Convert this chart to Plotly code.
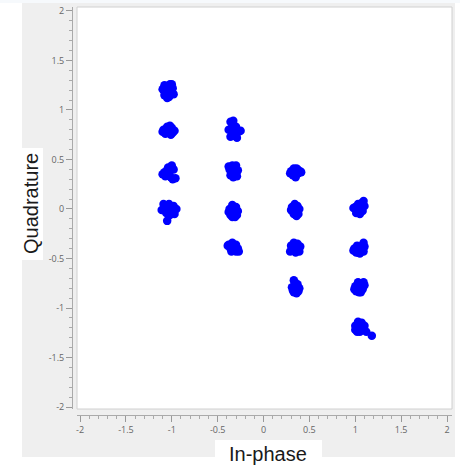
import plotly.graph_objects as go

# Constellation points, one list per cluster (In-phase, Quadrature)
cluster_i = [
    [-1.08, -1.02, -0.99, -1.06, -1.01, -1.08, -1.03, -0.98, -1.05, -1.10, -1.00, -1.04],
    [-1.09, -1.05, -1.00, -0.97, -1.03, -1.07, -1.01, -1.06, -0.99, -1.04, -1.10, -1.02],
    [-1.08, -1.04, -1.00, -0.98, -1.03, -1.07, -1.01, -0.96, -0.99, -1.05, -1.10, -1.02],
    [-1.08, -1.03, -0.98, -0.95, -1.00, -1.06, -1.11, -1.02, -0.97, -1.05, -1.04, -1.09],
    [-0.36, -0.34, -0.31, -0.27, -0.34, -0.38, -0.32, -0.29, -0.36, -0.30, -0.33, -0.25],
    [-0.37, -0.34, -0.30, -0.28, -0.32, -0.36, -0.33, -0.29, -0.35, -0.31, -0.38, -0.33],
    [-0.37, -0.34, -0.30, -0.28, -0.33, -0.36, -0.31, -0.35, -0.29, -0.32, -0.38, -0.34],
    [-0.38, -0.34, -0.30, -0.28, -0.32, -0.36, -0.30, -0.33, -0.27, -0.35, -0.39, -0.31],
    [0.30, 0.33, 0.37, 0.40, 0.35, 0.32, 0.35, 0.38, 0.29, 0.34, 0.41, 0.36],
    [0.31, 0.34, 0.37, 0.39, 0.36, 0.33, 0.36, 0.31, 0.38, 0.34, 0.30, 0.35],
    [0.30, 0.33, 0.37, 0.40, 0.36, 0.32, 0.35, 0.39, 0.31, 0.34, 0.29, 0.37],
    [0.33, 0.34, 0.37, 0.39, 0.36, 0.33, 0.36, 0.31, 0.38, 0.34, 0.32, 0.37],
    [1.00, 1.03, 1.07, 1.09, 1.10, 1.06, 1.02, 1.05, 1.08, 0.98, 1.04, 1.01],
    [0.99, 1.02, 1.06, 1.09, 1.10, 1.07, 1.03, 1.05, 1.09, 0.98, 1.04, 1.01],
    [1.00, 1.03, 1.07, 1.10, 1.08, 1.04, 1.01, 1.06, 0.99, 1.05, 1.09, 1.02],
    [1.00, 1.03, 1.07, 1.10, 1.08, 1.05, 1.02, 1.00, 1.06, 1.12, 1.18, 1.04],
]
cluster_q = [
    [1.25, 1.26, 1.22, 1.20, 1.18, 1.15, 1.13, 1.16, 1.12, 1.21, 1.26, 1.22],
    [0.80, 0.83, 0.82, 0.79, 0.77, 0.76, 0.75, 0.81, 0.77, 0.80, 0.78, 0.84],
    [0.37, 0.42, 0.44, 0.40, 0.36, 0.33, 0.32, 0.31, 0.30, 0.39, 0.35, 0.40],
    [0.02, 0.05, 0.03, 0.00, -0.03, -0.04, -0.01, -0.06, -0.05, -0.12, 0.00, 0.05],
    [0.88, 0.84, 0.80, 0.78, 0.77, 0.80, 0.74, 0.72, 0.73, 0.83, 0.89, 0.79],
    [0.40, 0.44, 0.44, 0.39, 0.36, 0.34, 0.32, 0.33, 0.38, 0.41, 0.43, 0.39],
    [0.00, 0.04, 0.02, -0.02, -0.04, -0.06, -0.08, -0.02, -0.06, 0.00, -0.03, -0.08],
    [-0.36, -0.34, -0.36, -0.40, -0.42, -0.40, -0.43, -0.38, -0.43, -0.43, -0.37, -0.39],
    [0.38, 0.41, 0.40, 0.38, 0.35, 0.34, 0.32, 0.36, 0.36, 0.38, 0.37, 0.41],
    [0.02, 0.05, 0.03, 0.00, -0.03, -0.05, -0.07, -0.02, -0.05, 0.00, -0.01, -0.06],
    [-0.37, -0.34, -0.35, -0.38, -0.41, -0.42, -0.44, -0.43, -0.40, -0.38, -0.43, -0.40],
    [-0.72, -0.74, -0.76, -0.80, -0.83, -0.84, -0.85, -0.79, -0.83, -0.79, -0.82, -0.79],
    [0.02, 0.05, 0.06, 0.08, 0.03, 0.00, -0.03, -0.05, -0.02, 0.01, 0.01, -0.04],
    [-0.40, -0.37, -0.38, -0.34, -0.38, -0.42, -0.44, -0.45, -0.43, -0.42, -0.41, -0.44],
    [-0.78, -0.74, -0.75, -0.77, -0.81, -0.84, -0.83, -0.84, -0.81, -0.79, -0.74, -0.79],
    [-1.18, -1.14, -1.15, -1.18, -1.22, -1.24, -1.24, -1.22, -1.20, -1.24, -1.28, -1.19],
]

tick_vals = [-2, -1.5, -1, -0.5, 0, 0.5, 1, 1.5, 2]
tick_text = ["-2", "-1.5", "-1", "-0.5", "0", "0.5", "1", "1.5", "2"]

W, H = 460, 468
def px(x):
    return x / W
def py(y):
    return 1 - y / H

i_all = [v for c in cluster_i for v in c]
q_all = [v for c in cluster_q for v in c]

fig = go.Figure()
fig.add_trace(go.Scatter(
    x=i_all, y=q_all, mode="markers",
    marker=dict(color="#0000ff", size=8.5, line=dict(width=0)),
    showlegend=False, hoverinfo="skip",
))

tickfont = dict(family="Open Sans, DejaVu Sans, sans-serif", size=9, color="#666666")
axis_common = dict(
    tickmode="array", tickvals=tick_vals, ticktext=tick_text,
    ticks="outside", ticklen=6, tickcolor="#999999", tickwidth=1,
    showline=True, linecolor="#aaaaaa", linewidth=1,
    showgrid=False, zeroline=False, tickfont=tickfont,
    minor=dict(dtick=0.1, tick0=0, ticks="outside", ticklen=3, tickcolor="#aaaaaa", showgrid=False),
    anchor="free", fixedrange=True, automargin=False,
)

fig.update_layout(
    width=W, height=H,
    margin=dict(l=0, r=0, t=0, b=0),
    paper_bgcolor="#efefef",
    plot_bgcolor="#ffffff",
    xaxis=dict(axis_common, domain=[px(77), px(452)], range=[-2.033, 2.054], position=py(415)),
    yaxis=dict(axis_common, domain=[py(409), py(7)], range=[-2.02, 2.04], position=px(72)),
    shapes=[
        dict(type="rect", xref="paper", yref="paper", x0=0, x1=px(22), y0=0, y1=1,
             fillcolor="#ffffff", line=dict(width=0), layer="below"),
        dict(type="rect", xref="paper", yref="paper", x0=0, x1=1, y0=0, y1=py(457),
             fillcolor="#ffffff", line=dict(width=0), layer="below"),
        dict(type="rect", xref="paper", yref="paper", x0=px(455), x1=1, y0=0, y1=1,
             fillcolor="#ffffff", line=dict(width=0), layer="below"),
        dict(type="rect", xref="paper", yref="paper", x0=0, x1=1, y0=py(3), y1=1,
             fillcolor="#f6f9fc", line=dict(width=0), layer="below"),
        dict(type="rect", xref="paper", yref="paper", x0=px(22), x1=px(43), y0=py(260), y1=py(148),
             fillcolor="#ffffff", line=dict(width=0), layer="below"),
        dict(type="rect", xref="paper", yref="paper", x0=px(215), x1=px(322), y0=0, y1=py(440),
             fillcolor="#ffffff", line=dict(width=0), layer="below"),
        dict(type="rect", xref="paper", yref="paper", x0=px(77), x1=px(452), y0=py(409), y1=py(7),
             fillcolor="rgba(0,0,0,0)", line=dict(width=1, color="#d0d0d0"), layer="above"),
    ],
    annotations=[
        dict(text="Quadrature", xref="paper", yref="paper", x=px(31), y=py(204),
             showarrow=False, textangle=-90, xanchor="center", yanchor="middle",
             font=dict(family="Liberation Sans, Arial, sans-serif", size=20, color="#1a1a1a")),
        dict(text="In-phase", xref="paper", yref="paper", x=px(268), y=py(454),
             showarrow=False, xanchor="center", yanchor="middle",
             font=dict(family="Liberation Sans, Arial, sans-serif", size=20, color="#1a1a1a")),
    ],
)

fig.write_html(
    "out.html",
    config={"displayModeBar": False, "staticPlot": True},
    post_script="document.body.style.margin='0';document.body.style.padding='0';",
)
